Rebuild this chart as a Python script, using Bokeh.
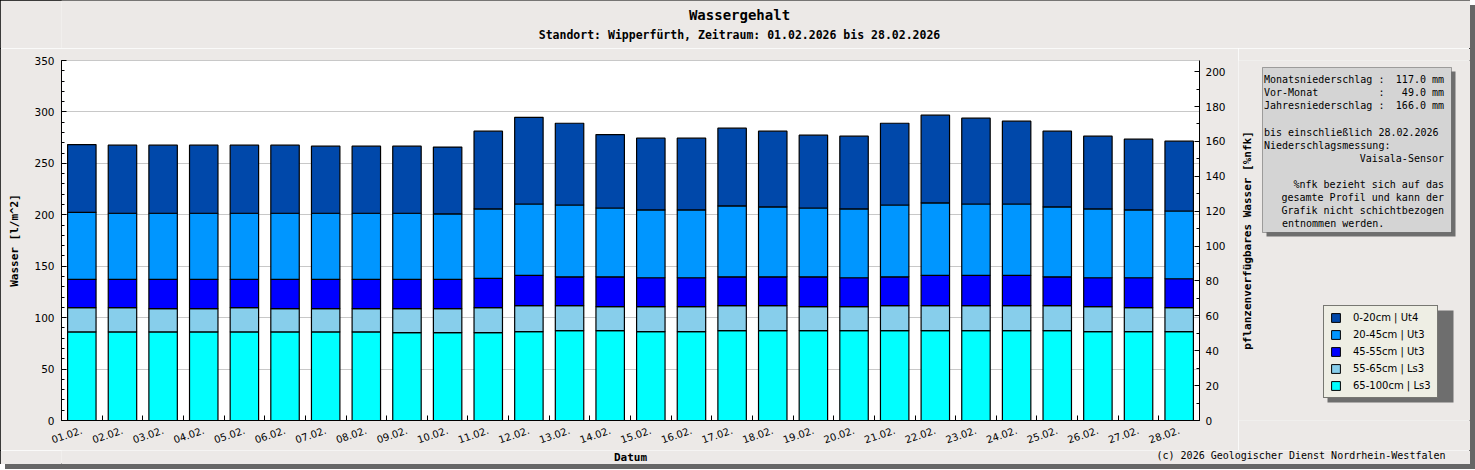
import math
from bokeh.plotting import figure
from bokeh.layouts import column, row
from bokeh.models import (Range1d, LinearAxis, FixedTicker, SingleIntervalTicker,
                          Label, BoxAnnotation, Legend, LegendItem, ColumnDataSource)
from bokeh.embed import file_html
from bokeh.resources import INLINE

# ---------------- data ----------------
dates = ["01.02.", "02.02.", "03.02.", "04.02.", "05.02.", "06.02.", "07.02.",
         "08.02.", "09.02.", "10.02.", "11.02.", "12.02.", "13.02.", "14.02.",
         "15.02.", "16.02.", "17.02.", "18.02.", "19.02.", "20.02.", "21.02.",
         "22.02.", "23.02.", "24.02.", "25.02.", "26.02.", "27.02.", "28.02."]

layer_65_100 = [86.1, 86.1, 86.1, 86.1, 86.1, 86.1, 86.1, 86.1, 85.5, 85.5,
                85.5, 86.5, 87.4, 87.4, 86.5, 86.5, 87.4, 87.4, 87.4, 87.4,
                87.4, 87.4, 87.4, 87.4, 87.4, 86.5, 86.5, 86.5]
layer_55_65 = [23.6, 23.6, 22.6, 22.6, 23.6, 22.6, 22.6, 22.6, 23.2, 23.2,
               24.2, 25.1, 24.2, 23.3, 24.2, 24.2, 24.2, 24.2, 23.3, 23.3,
               24.2, 24.2, 24.2, 24.2, 24.2, 24.2, 23.2, 23.2]
layer_45_55 = [27.5, 27.5, 28.5, 28.5, 27.5, 28.5, 28.5, 28.5, 28.5, 28.5,
               28.4, 29.4, 28.1, 29.0, 28.1, 28.1, 28.1, 28.1, 29.0, 28.1,
               28.1, 29.4, 29.4, 29.4, 28.1, 28.1, 29.1, 28.1]
layer_20_45 = [65.2, 64.3, 64.3, 64.3, 64.3, 64.3, 64.3, 64.3, 64.3, 63.6,
               67.6, 69.5, 69.8, 66.9, 65.9, 65.9, 68.9, 67.9, 66.9, 66.9,
               69.8, 70.5, 69.5, 69.5, 67.9, 66.9, 65.9, 65.9]
layer_0_20 = [65.9, 66.2, 66.2, 66.2, 66.2, 66.2, 65.2, 65.2, 65.2, 65.0,
              75.6, 84.3, 79.5, 71.4, 69.8, 69.8, 75.6, 73.7, 70.8, 70.7,
              79.5, 85.3, 83.4, 80.5, 73.7, 70.7, 68.8, 67.9]

layer_names = ["65-100cm | Ls3", "55-65cm | Ls3", "45-55cm | Ut3",
               "20-45cm | Ut3", "0-20cm | Ut4"]

precip_names = ["Monatsniederschlag", "Vor-Monat", "Jahresniederschlag"]
precip_values = ["117.0 mm", "49.0 mm", "166.0 mm"]
info_left = ["bis einschließlich 28.02.2026", "Niederschlagsmessung:"]
info_sensor = "Vaisala-Sensor"
info_note = ["%nfk bezieht sich auf das", "gesamte Profil und kann der",
             "Grafik nicht schichtbezogen", "entnommen werden."]

title_text = "Wassergehalt"
subtitle_text = "Standort: Wipperfürth, Zeitraum: 01.02.2026 bis 28.02.2026"
credit_text = "(c) 2026 Geologischer Dienst Nordrhein-Westfalen"
x_title = "Datum"
y_title = "Wasser [l/m^2]"
y2_title = "pflanzenverfügbares Wasser [%nfk]"

# ---------------- styling / geometry (page pixels) ----------------
BG = "#ECE9E7"
colors = ["#00FFFF", "#87CEEB", "#0000FF", "#0096FF", "#0048AA"]
MONO = "DejaVu Sans Mono"
SANS = "DejaVu Sans"
TOTAL_W, TOTAL_H = 1470, 464
HEAD_H, FOOT_H = 48, 14
MAIN_W = 1238
BODY_H = TOTAL_H - HEAD_H - FOOT_H          # 402
FL, FR, FT, FB = 61, 1199, 60, 420           # plot frame in page pixels

def blank(width, height, x0, x1, y0, y1, **kw):
    f = figure(width=width, height=height, x_range=Range1d(x0, x1), y_range=Range1d(y1, y0),
               output_backend="svg", toolbar_location=None,
               x_axis_location=None, y_axis_location=None,
               background_fill_color=BG, border_fill_color=BG, outline_line_color=None, **kw)
    f.grid.visible = False
    return f

def txt(f, x, y, s, align="left", size="10px", bold=False, angle=0.0, font=MONO):
    f.add_layout(Label(x=x, y=y, text=s, text_font=font, text_font_size=size,
                       text_font_style="bold" if bold else "normal", angle=angle,
                       text_align=align, text_baseline="middle", text_color="black"))

def box(f, l, r, t, b, fill, line=None):
    f.add_layout(BoxAnnotation(left=l, right=r, top=t, bottom=b, fill_color=fill,
                               fill_alpha=1, line_color=line, line_width=1))

xs = list(range(1, len(dates) + 1))
keys = ["l65", "l55", "l45", "l20", "l0"]
src = ColumnDataSource(dict(x=xs, l65=layer_65_100, l55=layer_55_65,
                            l45=layer_45_55, l20=layer_20_45, l0=layer_0_20))

# ---------------- main chart ----------------
p = figure(width=MAIN_W, height=BODY_H, x_range=Range1d(0.5, len(dates) + 0.5),
           y_range=Range1d(0, 350), output_backend="svg", toolbar_location=None,
           min_border_left=FL, min_border_right=MAIN_W - FR,
           min_border_top=FT - HEAD_H, min_border_bottom=HEAD_H + BODY_H - FB,
           background_fill_color="white", border_fill_color=BG,
           outline_line_color="#C8C8C8")

renderers = p.vbar_stack(keys, x="x", width=0.7, source=src, fill_color=colors,
                         line_color="black", line_width=1.2)

xa = p.xaxis[0]
xa.ticker = FixedTicker(ticks=xs, minor_ticks=[i + 0.5 for i in xs[:-1]])
xa.major_label_overrides = {i: d for i, d in zip(xs, dates)}
xa.major_tick_in = 0
xa.major_tick_out = 0
xa.minor_tick_in = 5
xa.minor_tick_out = 0
xa.major_label_orientation = 0.33
xa.major_label_standoff = 9
xa.major_label_text_font = SANS
xa.major_label_text_font_size = "10px"
xa.major_label_text_color = "black"
xa.axis_line_color = "black"

ya = p.yaxis[0]
ya.ticker = SingleIntervalTicker(interval=50, num_minor_ticks=5)
ya.major_tick_in = 5
ya.major_tick_out = 0
ya.minor_tick_in = 3
ya.minor_tick_out = 0
ya.major_label_standoff = 7
ya.major_label_text_font = SANS
ya.major_label_text_font_size = "10.5px"
ya.major_label_text_color = "black"
ya.axis_label = y_title
ya.axis_label_text_font = MONO
ya.axis_label_text_font_style = "bold"
ya.axis_label_text_font_size = "11px"
ya.axis_label_text_color = "black"
ya.axis_label_standoff = 10
ya.axis_line_color = "black"

p.extra_y_ranges = {"nfk": Range1d(0, 206.4)}
ra = LinearAxis(y_range_name="nfk", ticker=SingleIntervalTicker(interval=20, num_minor_ticks=2))
ra.major_tick_in = 5
ra.major_tick_out = 0
ra.minor_tick_in = 3
ra.minor_tick_out = 0
ra.major_label_standoff = 6
ra.major_label_text_font = SANS
ra.major_label_text_font_size = "10.5px"
ra.major_label_text_color = "black"
ra.axis_line_color = "black"
p.add_layout(ra, "right")

p.xgrid.visible = False
p.ygrid.grid_line_color = "#C8C8C8"

# ---------------- header (titles) ----------------
head = blank(TOTAL_W, HEAD_H, FL, TOTAL_W, 0, HEAD_H,
             min_border_left=FL, min_border_right=0, min_border_top=0, min_border_bottom=0)
txt(head, 739, 14, title_text, "center", "14px", True)
txt(head, 739, 34, subtitle_text, "center", "11.5px", True)

# ---------------- footer ----------------
foot = blank(TOTAL_W, FOOT_H, FL, TOTAL_W, TOTAL_H - FOOT_H, TOTAL_H,
             min_border_left=FL, min_border_right=0, min_border_top=0, min_border_bottom=0)
txt(foot, (FL + FR) / 2, 457, x_title, "center", "11px", True)
txt(foot, 1445, 455, credit_text, "right", "10px")

# ---------------- side panel: right axis title, info box, legend ----------------
side = blank(TOTAL_W - MAIN_W, BODY_H, MAIN_W, TOTAL_W, FT, FB,
             min_border_left=0, min_border_right=0,
             min_border_top=FT - HEAD_H, min_border_bottom=HEAD_H + BODY_H - FB)
txt(side, 1247, (FT + FB) / 2, y2_title, "center", "11px", True, angle=math.pi / 2)

box(side, 1266, 1455, 71, 236, "#6E6E6E")
box(side, 1262, 1451, 67, 232, "#D4D4D4", "black")
LX, RX, CX, Y0, DY = 1263.5, 1443.5, 1378.0, 79.3, 13.05
for k, (n, v) in enumerate(zip(precip_names, precip_values)):
    txt(side, LX, Y0 + k * DY, n)
    txt(side, CX, Y0 + k * DY, ":")
    txt(side, RX, Y0 + k * DY, v, "right")
txt(side, LX, Y0 + 4 * DY, info_left[0])
txt(side, LX, Y0 + 5 * DY, info_left[1])
txt(side, RX, Y0 + 6 * DY, info_sensor, "right")
txt(side, RX, Y0 + 8 * DY, info_note[0], "right")
txt(side, RX, Y0 + 9 * DY, info_note[1], "right")
txt(side, RX, Y0 + 10 * DY, info_note[2], "right")
txt(side, LX + 18, Y0 + 11 * DY, info_note[3])

# legend swatches: same styles as the stacked bars, zero-height placeholder outside the view
swatch_src = ColumnDataSource(dict(x=[10000], l65=[0], l55=[0], l45=[0], l20=[0], l0=[0]))
swatches = side.vbar_stack(keys, x="x", width=0.01, source=swatch_src, fill_color=colors,
                           line_color="black", line_width=1)
box(side, 1327, 1453, 310, 402, "#6E6E6E")
items = [LegendItem(label=n, renderers=[r]) for n, r in zip(layer_names, swatches)]
legend = Legend(items=items[::-1], location=(1323 - MAIN_W, FB - 398))
legend.border_line_color = "black"
legend.background_fill_color = "#EEEEE4"
legend.background_fill_alpha = 1
legend.label_text_font = SANS
legend.label_text_font_size = "10px"
legend.label_text_color = "black"
legend.glyph_width = 11
legend.glyph_height = 11
legend.label_height = 11
legend.padding = 6
legend.spacing = 6
legend.label_standoff = 12
legend.margin = 0
side.add_layout(legend)

layout = column(head, row(p, side), foot)
layout.styles = {"outline": "1px solid #000000", "outline-offset": "-1px",
                 "box-shadow": "5px 5px 0 #666666"}
open("out.html", "w").write(file_html(layout, INLINE))
